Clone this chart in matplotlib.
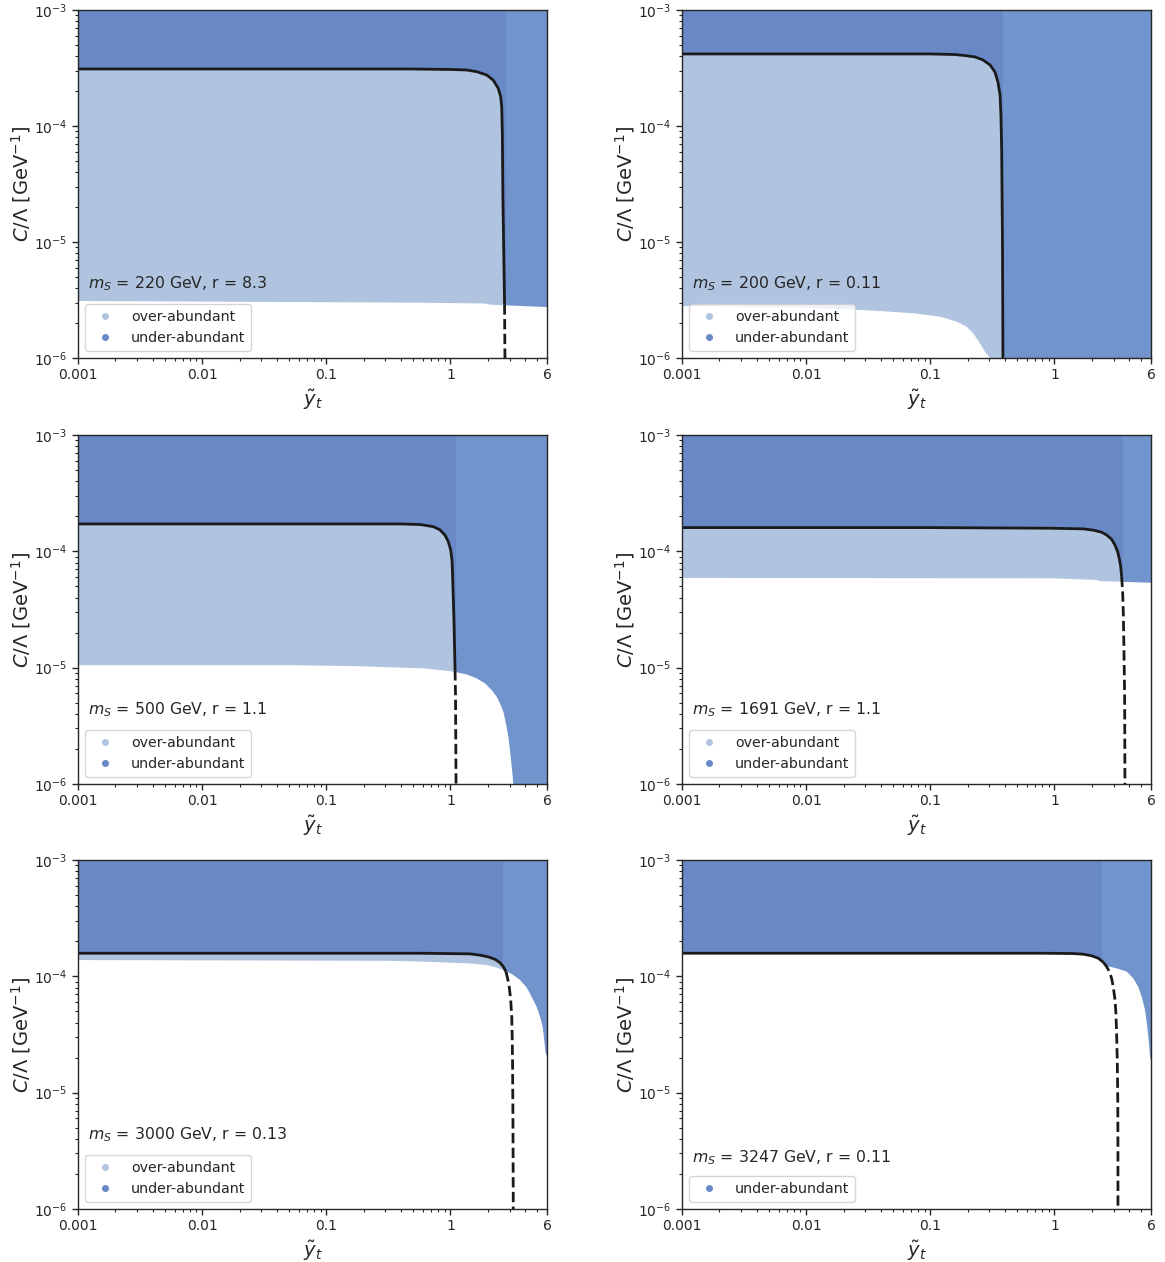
import matplotlib
matplotlib.use("Agg")
import matplotlib.pyplot as plt
from matplotlib.lines import Line2D
from matplotlib.ticker import FixedLocator, FixedFormatter, LogLocator, NullFormatter

plt.rcParams["font.family"] = ["DejaVu Sans"]
plt.rcParams["text.color"] = "#262626"
plt.rcParams["axes.labelcolor"] = "#262626"
plt.rcParams["xtick.color"] = "#262626"
plt.rcParams["ytick.color"] = "#262626"
plt.rcParams["axes.edgecolor"] = "#262626"

# ---- benchmark labels -------------------------------------------------------
mass_gev = [220, 200, 500, 1691, 3000, 3247]
ratio_r = ["8.3", "0.11", "1.1", "1.1", "0.13", "0.11"]
has_over = [True, True, True, True, True, False]

# ---- relic-density contour (solid inside scanned region, dashed below) ------
curve1_x = [0.001, 0.01, 0.1, 0.5, 1.0, 1.35, 1.63, 1.96, 2.21, 2.43, 2.54, 2.59, 2.62, 2.65, 2.73, 2.75]
curve1_c = [3.1e-4, 3.1e-4, 3.1e-4, 3.1e-4, 3.07e-4, 3.04e-4, 2.94e-4, 2.75e-4, 2.49e-4, 2.11e-4,
            1.79e-4, 1.47e-4, 8.65e-5, 2.3e-5, 2.9e-6, 1e-6]
curve2_x = [0.001, 0.01, 0.1, 0.158, 0.19, 0.229, 0.266, 0.303, 0.332, 0.351, 0.365, 0.371,
            0.376, 0.382, 0.385]
curve2_c = [4.18e-4, 4.18e-4, 4.18e-4, 4.13e-4, 4.05e-4, 3.94e-4, 3.71e-4, 3.36e-4, 2.92e-4,
            2.39e-4, 1.85e-4, 1.24e-4, 6.2e-5, 8.5e-6, 1e-6]
curve3_x = [0.001, 0.01, 0.1, 0.393, 0.569, 0.728, 0.824, 0.904, 0.962, 1.005, 1.03, 1.04,
            1.054, 1.068, 1.09, 1.10, 1.11]
curve3_c = [1.72e-4, 1.72e-4, 1.72e-4, 1.72e-4, 1.7e-4, 1.63e-4, 1.53e-4, 1.38e-4, 1.21e-4,
            1.03e-4, 8.4e-5, 6.5e-5, 4.07e-5, 2.57e-5, 9.5e-6, 5.6e-6, 1e-6]
curve4_x = [0.001, 0.01, 0.1, 0.92, 1.71, 2.06, 2.40, 2.64, 2.89, 3.08, 3.23, 3.33, 3.42,
            3.48, 3.55, 3.59, 3.63, 3.68, 3.70]
curve4_c = [1.6e-4, 1.6e-4, 1.6e-4, 1.58e-4, 1.56e-4, 1.52e-4, 1.46e-4, 1.38e-4, 1.27e-4,
            1.13e-4, 9.93e-5, 8.7e-5, 7.38e-5, 6.05e-5, 4.36e-5, 2.93e-5, 1.51e-5, 5.6e-6, 1e-6]
curve5_x = [0.001, 0.01, 0.1, 0.569, 1.44, 1.73, 2.02, 2.29, 2.51, 2.67, 2.80, 2.89, 2.98,
            3.06, 3.12, 3.15, 3.17, 3.19, 3.21]
curve5_c = [1.58e-4, 1.58e-4, 1.58e-4, 1.58e-4, 1.56e-4, 1.52e-4, 1.47e-4, 1.40e-4, 1.31e-4,
            1.21e-4, 1.10e-4, 9.6e-5, 8.1e-5, 6.25e-5, 4.49e-5, 2.83e-5, 1.67e-5, 6.2e-6, 1e-6]
curve6_x = [0.001, 0.01, 0.1, 0.766, 1.42, 1.71, 2.0, 2.26, 2.48, 2.64, 2.77, 2.89, 2.98,
            3.08, 3.13, 3.17, 3.21, 3.24, 3.25, 3.25]
curve6_c = [1.58e-4, 1.58e-4, 1.58e-4, 1.58e-4, 1.57e-4, 1.55e-4, 1.50e-4, 1.43e-4, 1.32e-4,
            1.21e-4, 1.10e-4, 9.6e-5, 8.1e-5, 6.25e-5, 4.8e-5, 3.24e-5, 1.9e-5, 8.6e-6, 3.2e-6, 1e-6]
# number of contour points drawn solid
solid_points = [15, 15, 15, 14, 11, 9]

# ---- lower edge of the scanned region (white below) ------------------------
edge1_x = [0.001, 0.5, 1.9, 2.1, 6.0]
edge1_c = [3.1e-6, 3.0e-6, 2.95e-6, 2.88e-6, 2.75e-6]
edge2_x = [0.001, 0.00615, 0.0212, 0.0394, 0.073, 0.120, 0.163, 0.196, 0.222, 0.251, 0.276, 0.303]
edge2_c = [2.8e-6, 2.75e-6, 2.63e-6, 2.54e-6, 2.43e-6, 2.27e-6, 2.06e-6, 1.86e-6, 1.63e-6,
           1.34e-6, 1.13e-6, 1e-6]
edge3_x = [0.001, 0.051, 0.176, 0.605, 0.934, 1.089, 1.35, 1.63, 1.90, 2.15, 2.36, 2.51, 2.67,
           2.80, 2.93, 3.02, 3.12, 3.18, 3.21]
edge3_c = [1.05e-5, 1.05e-5, 1.03e-5, 9.86e-6, 9.4e-6, 9.2e-6, 8.75e-6, 8.09e-6, 7.33e-6,
           6.42e-6, 5.62e-6, 4.93e-6, 4.18e-6, 3.32e-6, 2.55e-6, 1.95e-6, 1.41e-6, 1.15e-6, 1e-6]
edge4_x = [0.001, 1.0, 2.19, 2.3, 6.0]
edge4_c = [5.9e-5, 5.86e-5, 5.67e-5, 5.55e-5, 5.37e-5]
edge5_x = [0.001, 0.3, 0.569, 1.44, 1.96, 2.36, 2.67, 3.12, 3.64, 4.12, 4.51, 4.95, 5.27, 5.54,
           5.70, 5.85, 6.0]
edge5_c = [1.38e-4, 1.36e-4, 1.34e-4, 1.29e-4, 1.25e-4, 1.19e-4, 1.13e-4, 1.05e-4, 9.3e-5,
           8.0e-5, 6.68e-5, 5.48e-5, 4.5e-5, 3.69e-5, 2.83e-5, 2.18e-5, 2.07e-5]
edge6_x = [0.001, 0.766, 1.42, 1.71, 2.0, 2.26, 2.48, 2.64, 3.18, 3.82, 4.32, 4.74, 5.05, 5.37,
           5.60, 5.78, 5.89, 6.0]
edge6_c = [1.56e-4, 1.56e-4, 1.55e-4, 1.53e-4, 1.48e-4, 1.41e-4, 1.30e-4, 1.23e-4, 1.17e-4,
           1.10e-4, 9.6e-5, 8.1e-5, 6.68e-5, 5.13e-5, 3.69e-5, 2.65e-5, 2.04e-5, 1.9e-5]

# start of the finer high-coupling scan (slightly lighter shading)
strip_start = [2.8, 0.385, 1.1, 3.57, 2.65, 2.42]

curves = [(curve1_x, curve1_c), (curve2_x, curve2_c), (curve3_x, curve3_c),
          (curve4_x, curve4_c), (curve5_x, curve5_c), (curve6_x, curve6_c)]
edges = [(edge1_x, edge1_c), (edge2_x, edge2_c), (edge3_x, edge3_c),
         (edge4_x, edge4_c), (edge5_x, edge5_c), (edge6_x, edge6_c)]

x_ticks = [0.001, 0.01, 0.1, 1, 6]
x_ticklabels = ["0.001", "0.01", "0.1", "1", "6"]
XMIN, XMAX = 0.001, 6.0
YMIN, YMAX = 1e-6, 1e-3

C_UNDER = "#6889c6"
C_UNDER_FINE = "#7094cb"
C_OVER = "#b0c4df"

fig = plt.figure(figsize=(11.65, 12.62), dpi=100)
W, H = 1165.0, 1262.0
col_px = [(78, 547), (682, 1151)]
row_px = [(10, 358), (435, 784), (860, 1209)]

for i in range(6):
    r, c = divmod(i, 2)
    x0, x1 = col_px[c]
    y0, y1 = row_px[r]
    ax = fig.add_axes([x0 / W, 1 - y1 / H, (x1 - x0) / W, (y1 - y0) / H])
    ax.set_xscale("log")
    ax.set_yscale("log")
    ax.set_xlim(XMIN, XMAX)
    ax.set_ylim(YMIN, YMAX)

    cx, cc = curves[i]
    ex, ec = edges[i]

    # under-abundant background (two scan densities)
    ax.axvspan(XMIN, strip_start[i], color=C_UNDER, lw=0, zorder=0.5)
    ax.axvspan(strip_start[i], XMAX, color=C_UNDER_FINE, lw=0, zorder=0.5)
    # over-abundant: below the relic contour
    if has_over[i]:
        ax.fill(list(cx) + [XMIN], list(cc) + [YMIN], color=C_OVER, lw=0, zorder=0.6)
    # outside the scanned region
    ax.fill(list(ex) + [ex[-1], XMIN], list(ec) + [YMIN, YMIN], color="white", lw=0, zorder=0.7)

    n = solid_points[i]
    ax.plot(cx[:n], cc[:n], color="#1a1a1a", lw=2, solid_capstyle="butt",
            solid_joinstyle="round", zorder=3)
    if n < len(cx):
        ax.plot(cx[n - 1:], cc[n - 1:], color="#1a1a1a", lw=2, ls="--", zorder=3)

    ax.xaxis.set_major_locator(FixedLocator(x_ticks))
    ax.xaxis.set_major_formatter(FixedFormatter(x_ticklabels))
    ax.xaxis.set_minor_locator(LogLocator(base=10, subs=range(2, 10), numticks=20))
    ax.xaxis.set_minor_formatter(NullFormatter())
    ax.yaxis.set_major_locator(LogLocator(base=10, numticks=10))
    ax.yaxis.set_minor_locator(LogLocator(base=10, subs=range(2, 10), numticks=20))
    ax.yaxis.set_minor_formatter(NullFormatter())
    ax.tick_params(which="major", labelsize=10, length=4, width=1)
    ax.tick_params(which="minor", length=2.5, width=0.8)
    for s in ax.spines.values():
        s.set_linewidth(1)
        s.set_zorder(4)

    ax.set_xlabel(r"$\tilde{y}_t$", fontsize=14)
    ax.set_ylabel(r"$C/\Lambda$ [GeV$^{-1}$]", fontsize=14, labelpad=0.5)

    handles = []
    if has_over[i]:
        handles.append(Line2D([], [], marker="o", ls="none", ms=4, color=C_OVER, label="over-abundant"))
    handles.append(Line2D([], [], marker="o", ls="none", ms=4, color=C_UNDER, label="under-abundant"))
    ax.legend(handles=handles, loc="lower left", fontsize=10.3)

    ty = 0.213 if has_over[i] else 0.146
    ax.text(0.021, ty, r"$m_S$ = %d GeV, r = %s" % (mass_gev[i], ratio_r[i]),
            transform=ax.transAxes, fontsize=11.3, ha="left", va="center")

fig.savefig("out.png", dpi=100)
